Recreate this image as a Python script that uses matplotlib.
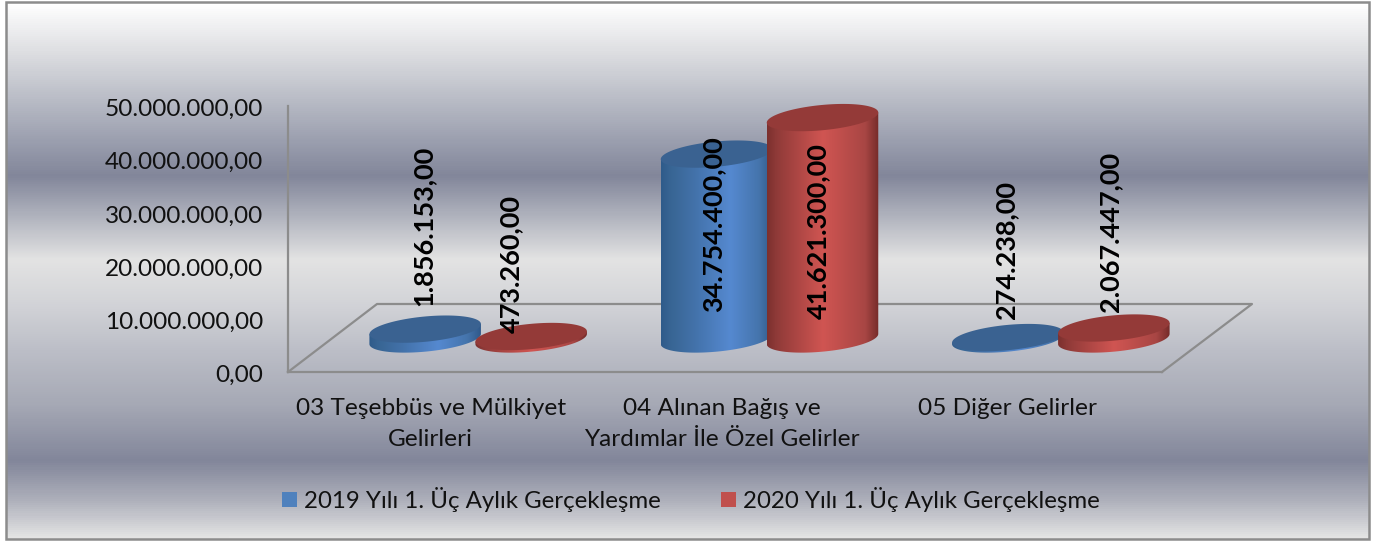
import numpy as np
import matplotlib
matplotlib.use('Agg')
import matplotlib.pyplot as plt
from matplotlib.colors import LinearSegmentedColormap
from matplotlib.patches import Patch, Polygon, Rectangle
from matplotlib.ticker import FuncFormatter
from matplotlib.transforms import ScaledTranslation

categories = ["03 Teşebbüs ve Mülkiyet\nGelirleri",
              "04 Alınan Bağış ve\nYardımlar İle Özel Gelirler",
              "05 Diğer Gelirler"]
series_names = ["2019 Yılı 1. Üç Aylık Gerçekleşme", "2020 Yılı 1. Üç Aylık Gerçekleşme"]
values_2019 = [1856153.00, 34754400.00, 274238.00]
values_2020 = [473260.00, 41621300.00, 2067447.00]
y_ticks = [0, 10000000, 20000000, 30000000, 40000000, 50000000]

W, H = 1375, 541
plt.rcParams['font.family'] = ['Lato', 'DejaVu Sans']
GREY = '#8c8c8c'


def tr_format(v, pos=None):
    return "{:,.2f}".format(v).replace(",", "#").replace(".", ",").replace("#", ".")


def ellipse_point(cx, cy, a, b, phi, t):
    x = cx + a * np.cos(t) * np.cos(phi) - b * np.sin(t) * np.sin(phi)
    y = cy + a * np.cos(t) * np.sin(phi) + b * np.sin(t) * np.cos(phi)
    return np.column_stack([x, y])


def cylinder(ov, cx, y_base, y_top, colors, cap, z):
    a, b, phi = 56, 12.6, np.radians(-5.5)
    t0 = np.arctan2(-b * np.sin(phi), a * np.cos(phi))
    arc = ellipse_point(cx, y_base, a, b, phi, np.linspace(t0, t0 + np.pi, 60))
    top_r = ellipse_point(cx, y_top, a, b, phi, np.array([t0]))
    top_l = ellipse_point(cx, y_top, a, b, phi, np.array([t0 + np.pi]))
    side = np.vstack([arc, top_l, top_r])
    patch = Polygon(side, closed=True, fc='none', ec='none', zorder=z)
    ov.add_patch(patch)
    cmap = LinearSegmentedColormap.from_list('side', colors)
    grad = np.linspace(0, 1, 200).reshape(1, -1)
    im = ov.imshow(grad, cmap=cmap, aspect='auto', zorder=z,
                   extent=(arc[:, 0].min(), arc[:, 0].max(), H, 0))
    im.set_clip_path(patch)
    pts = ellipse_point(cx, y_top, a, b, phi, np.linspace(0, 2 * np.pi, 120))
    ov.add_patch(Polygon(pts, closed=True, fc=cap, ec='none', zorder=z + 0.1))


fig = plt.figure(figsize=(W / 100, H / 100), dpi=100, facecolor='white')

# fondo con degradado
bg = fig.add_axes([0, 0, 1, 1], zorder=0)
stops = [(0.0, '#ffffff'), (0.09, '#dedfe2'), (0.18, '#b9bcc6'), (0.26, '#9a9eae'), (0.323, '#82869a'),
         (0.395, '#aeb1bc'), (0.48, '#e3e3e3'), (0.56, '#d3d4d8'), (0.65, '#bcbec7'), (0.75, '#a6a9b5'),
         (0.856, '#82869a'), (0.93, '#aeb0bb'), (1.0, '#e4e4e4')]
bg_cmap = LinearSegmentedColormap.from_list('fondo', stops)
bg.imshow(np.linspace(0, 1, 536).reshape(-1, 1), cmap=bg_cmap, aspect='auto',
          extent=(6, 1369, 539, 2))
bg.add_patch(Rectangle((6, 2), 1363, 537, fc='none', ec=GREY, lw=1.8))
bg.set_xlim(0, W)
bg.set_ylim(H, 0)
bg.axis('off')

# ejes con la escala de valores
ax = fig.add_axes([288 / W, 1 - 372 / H, 874 / W, 266 / H], zorder=1)
ax.patch.set_alpha(0)
ax.set_xlim(0, 3)
ax.set_ylim(0, 50000000)
ax.set_yticks(y_ticks)
ax.yaxis.set_major_formatter(FuncFormatter(tr_format))
ax.set_xticks([0.49, 1.49, 2.47])
ax.set_xticklabels(categories, linespacing=1.55)
ax.tick_params(axis='both', length=0, labelsize=17.6, colors='#111111')
ax.tick_params(axis='x', pad=19)
ax.tick_params(axis='y', pad=18)
for lbl in ax.get_yticklabels():
    lbl.set_transform(lbl.get_transform() + ScaledTranslation(0, -1.5 / 100, fig.dpi_scale_trans))
for s in ['top', 'right']:
    ax.spines[s].set_visible(False)
for s in ['left', 'bottom']:
    ax.spines[s].set_color(GREY)
    ax.spines[s].set_linewidth(1.6)

# capa en pixeles para los cilindros
ov = fig.add_axes([0, 0, 1, 1], zorder=3)
ov.patch.set_alpha(0)
ov.axis('off')
ov.plot([288, 377, 1252, 1162], [372, 304, 304, 372], color=GREY, lw=1.6, zorder=1)

cat_pos = np.arange(len(categories)) + 0.5
depth_x, depth_y = 44.5, 33
half_gap = 53
blue_side = [(0, '#2f5b8b'), (0.08, '#386593'), (0.3, '#4372aa'), (0.62, '#5589d0'), (0.88, '#4574ac'), (1, '#30598a')]
red_side = [(0, '#7c302e'), (0.08, '#8f3a38'), (0.5, '#d05552'), (0.88, '#a84644'), (1, '#762c2a')]
side_colors = [blue_side, red_side]
caps = ['#3a6291', '#943a38']
all_values = [values_2019, values_2020]

fig.canvas.draw()
z = 2
for i, pos in enumerate(cat_pos):
    for j, vals in enumerate(all_values):
        x0, y0 = ax.transData.transform((pos, 0))
        x1, y1 = ax.transData.transform((pos, vals[i]))
        cx = x0 + depth_x + (2 * j - 1) * half_gap
        cylinder(ov, cx, H - y0 - depth_y, H - y1 - depth_y, side_colors[j], caps[j], z)
        z += 1

ov.set_xlim(0, W)
ov.set_ylim(H, 0)

# etiquetas de valor, colocadas a mano como en el original
label_x = [[423, 713, 1006], [511, 818, 1110]]
label_y = [[226, 224, 250], [264, 231, 232]]
for j, vals in enumerate(all_values):
    for i, v in enumerate(vals):
        ov.text(label_x[j][i], label_y[j][i], tr_format(v), rotation=90, ha='center',
                va='center', fontsize=19.5, fontweight='bold', color='black', zorder=50)

handles = [Patch(fc='#4f81bd', ec='none'), Patch(fc='#c0504d', ec='none')]
fig.legend(handles, series_names, ncol=2, loc='center', bbox_to_anchor=(691 / W, 1 - 499.5 / H),
           frameon=False, fontsize=17.3, labelcolor='#111111', handlelength=0.625, handleheight=0.6,
           handletextpad=0.29, columnspacing=2.5, borderpad=0)

fig.savefig('out.png', dpi=100)
